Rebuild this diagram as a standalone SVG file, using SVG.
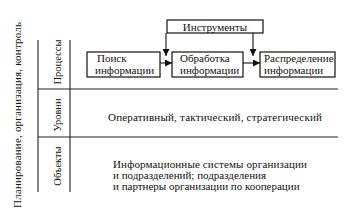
<svg xmlns="http://www.w3.org/2000/svg" width="350" height="215" viewBox="0 0 350 215">
<defs>
<marker id="ah" viewBox="0 0 10 10" refX="10" refY="5" markerWidth="7" markerHeight="7" markerUnits="userSpaceOnUse" orient="auto">
<path d="M0,0 L10,5 L0,10 z" fill="#111"/>
</marker>
</defs>
<style>
text{font-family:"Liberation Serif","DejaVu Serif",serif;fill:#111;}
.t{font-size:11px;}
.s{font-size:10.5px;}
.box{fill:#fff;stroke:#111;stroke-width:1.2;}
.ln{stroke:#222;stroke-width:1.1;fill:none;}
.c{stroke:#111;stroke-width:1.1;fill:none;marker-end:url(#ah);}
</style>
<rect width="350" height="215" fill="#fff"/>
<g id="frame">
<line class="ln" x1="38" y1="40" x2="38" y2="192"/>
<line class="ln" x1="70" y1="40" x2="70" y2="192"/>
<line class="ln" x1="38" y1="89" x2="338" y2="89"/>
<line class="ln" x1="38" y1="137" x2="338" y2="137"/>
</g>
<g id="side-label">
<text class="t" font-family="Liberation Serif, serif" transform="translate(21,115) rotate(-90)" text-anchor="middle" textLength="186">Планирование, организация, контроль</text>
</g>
<g id="row-labels">
<text class="s" font-family="Liberation Serif, serif" transform="translate(61,62) rotate(-90)" text-anchor="middle">Процессы</text>
<text class="s" font-family="Liberation Serif, serif" transform="translate(61,115) rotate(-90)" text-anchor="middle">Уровни</text>
<text class="s" font-family="Liberation Serif, serif" transform="translate(61,166) rotate(-90)" text-anchor="middle">Объекты</text>
</g>
<g id="instruments">
<rect class="box" x="167" y="20" width="96" height="13"/>
<text class="t" font-family="Liberation Serif, serif" x="215" y="30.5" text-anchor="middle">Инструменты</text>
</g>
<g id="search">
<rect class="box" x="87" y="52" width="73" height="25"/>
<text class="t" font-family="Liberation Serif, serif" x="97" y="62">Поиск</text>
<text class="t" font-family="Liberation Serif, serif" x="95" y="74">информации</text>
</g>
<g id="processing">
<rect class="box" x="172" y="52" width="71" height="25"/>
<text class="t" font-family="Liberation Serif, serif" x="180" y="62">Обработка</text>
<text class="t" font-family="Liberation Serif, serif" x="180" y="74">информации</text>
</g>
<g id="distribution">
<rect class="box" x="260" y="52" width="75" height="25"/>
<text class="t" font-family="Liberation Serif, serif" x="264" y="62">Распределение</text>
<text class="t" font-family="Liberation Serif, serif" x="264" y="74">информации</text>
</g>
<g id="connectors">
<line class="c" x1="166" y1="33" x2="166" y2="56"/>
<line class="c" x1="253" y1="33" x2="253" y2="56"/>
<line class="c" x1="160" y1="63" x2="172" y2="63"/>
<line class="c" x1="243" y1="63" x2="260" y2="63"/>
</g>
<g id="levels">
<text class="t" font-family="Liberation Serif, serif" x="108" y="121" textLength="214">Оперативный, тактический, стратегический</text>
</g>
<g id="objects">
<text class="t" font-family="Liberation Serif, serif" x="113" y="168" textLength="194">Информационные системы организации</text>
<text class="t" font-family="Liberation Serif, serif" x="113" y="179">и подразделений; подразделения</text>
<text class="t" font-family="Liberation Serif, serif" x="113" y="190">и партнеры организации по кооперации</text>
</g>
</svg>
